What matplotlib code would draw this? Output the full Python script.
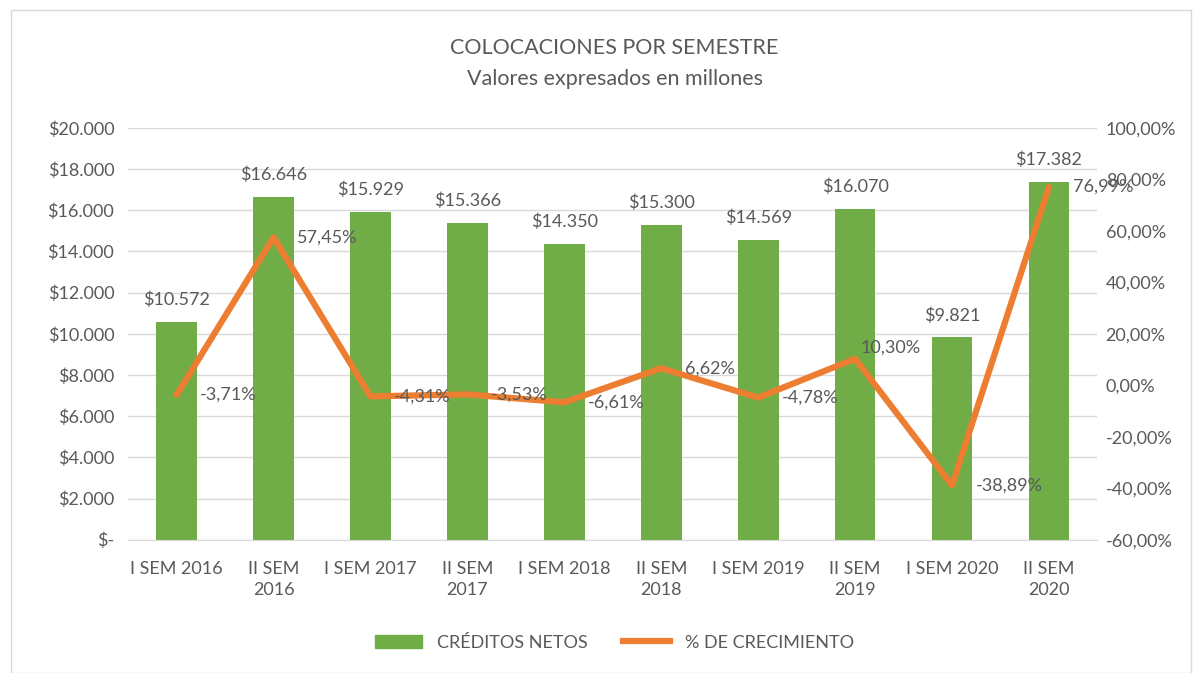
import matplotlib
matplotlib.use('Agg')
import matplotlib.pyplot as plt
import matplotlib.patches as mpatches
from matplotlib.lines import Line2D
import numpy as np

plt.rcParams['font.family'] = ['Lato', 'DejaVu Sans']

# datos
semestres = ['I SEM 2016', 'II SEM\n2016', 'I SEM 2017', 'II SEM\n2017', 'I SEM 2018',
             'II SEM\n2018', 'I SEM 2019', 'II SEM\n2019', 'I SEM 2020', 'II SEM\n2020']
creditos = [10572, 16646, 15929, 15366, 14350, 15300, 14569, 16070, 9821, 17382]
crecimiento = [-3.71, 57.45, -4.31, -3.53, -6.61, 6.62, -4.78, 10.30, -38.89, 76.99]

verde = '#70AD47'
naranja = '#ED7D31'
gris = '#595959'

fig = plt.figure(figsize=(11.98, 6.73), dpi=100)
ax = fig.add_axes([0.107, 0.198, 0.809, 0.612])
ax2 = ax.twinx()

x = np.arange(len(semestres))
ax.bar(x, creditos, width=0.42, color=verde, zorder=2)
ax.set_ylim(0, 20000)
ax.set_xlim(-0.5, len(semestres) - 0.5)
ax.set_yticks(np.arange(0, 20001, 2000))

def fmt_peso(v):
    if v == 0:
        return '$-'
    return '$' + f'{v:,.0f}'.replace(',', '.')

ax.set_yticklabels([fmt_peso(v) for v in np.arange(0, 20001, 2000)])
ax.set_xticks(x)
ax.set_xticklabels(semestres, linespacing=1.45)
ax.grid(axis='y', color='#D9D9D9', linewidth=1, zorder=0)
ax.set_axisbelow(True)

for a in (ax, ax2):
    for s in a.spines.values():
        s.set_visible(False)
    a.tick_params(length=0, labelsize=13, labelcolor=gris)
ax.tick_params(axis='x', pad=15)
ax.tick_params(axis='y', pad=10)
ax2.tick_params(axis='y', pad=6)
ax.spines['bottom'].set_visible(True)
ax.spines['bottom'].set_color('#D9D9D9')

ax2.plot(x, crecimiento, color=naranja, linewidth=4.5, solid_capstyle='round', zorder=3)
ax2.set_ylim(-60, 100)
ax2.set_yticks(np.arange(-60, 101, 20))
ax2.set_yticklabels([f'{v:.2f}%'.replace('.', ',') for v in np.arange(-60, 101, 20)])

# etiquetas
for xi, v in zip(x, creditos):
    ax.annotate(fmt_peso(v), (xi, v), xytext=(0, 10), textcoords='offset points',
                ha='center', va='bottom', fontsize=13, color=gris)
for xi, v in zip(x, crecimiento):
    dx, dy = (17, 0)
    if xi == 7:  # Excel la movió arriba para no chocar con la barra
        dx, dy = (4, 8)
    ax2.annotate(f'{v:.2f}%'.replace('.', ','), (xi, v), xytext=(dx, dy), textcoords='offset points',
                 ha='left', va='center', fontsize=13, color=gris, zorder=4)

fig.text(0.513, 0.929, 'COLOCACIONES POR SEMESTRE', ha='center', va='center', fontsize=15.5, color=gris)
fig.text(0.513, 0.883, 'Valores expresados en millones', ha='center', va='center', fontsize=15.5, color=gris)

handles = [mpatches.Patch(color=verde, label='CRÉDITOS NETOS'),
           Line2D([0], [0], color=naranja, linewidth=4.5, label='% DE CRECIMIENTO')]
fig.legend(handles=handles, loc='center', bbox_to_anchor=(0.513, 0.045), ncol=2, frameon=False,
           fontsize=13, labelcolor=gris, handlelength=2.6, columnspacing=2.0)

fig.add_artist(mpatches.Rectangle((0.009, 0.0), 0.985, 0.985, transform=fig.transFigure,
                                  fill=False, edgecolor='#D9D9D9', linewidth=1))

fig.savefig('out.png', dpi=100)
